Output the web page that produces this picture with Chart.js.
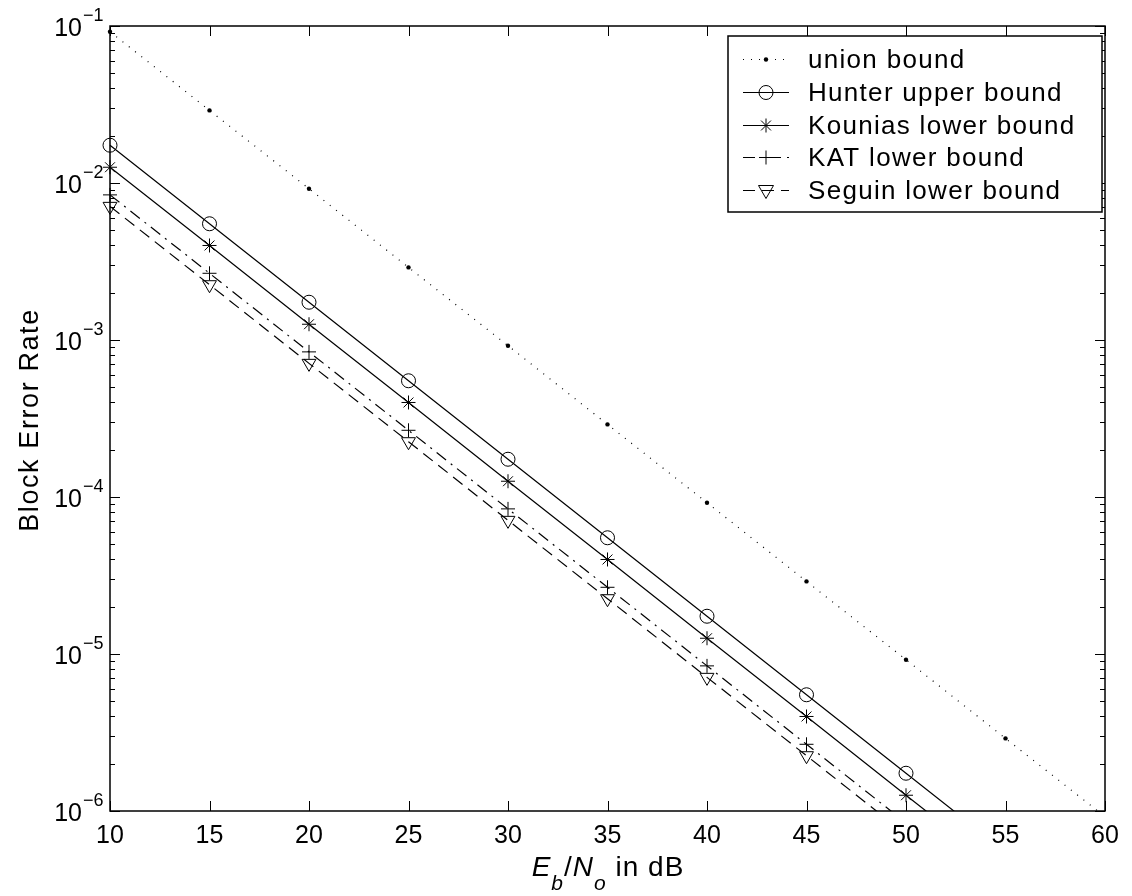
<!DOCTYPE html>
<html>
<head>
<meta charset="utf-8">
<script src="https://cdn.jsdelivr.net/npm/chart.js@4.4.0/dist/chart.umd.min.js"></script>
<style>
  body { margin: 0; background: #fff; }
  canvas { display: block; }
</style>
</head>
<body>
<canvas id="berChart" width="1132" height="896"></canvas>
<script>
// Eb/No values (dB)
const ebno = [10, 15, 20, 25, 30, 35, 40, 45, 50, 55, 60];

// block error rate per bound
const unionBound   = [0.092, 0.029, 0.0092, 0.0029, 9.2e-4, 2.9e-4, 9.2e-5, 2.9e-5, 9.2e-6, 2.9e-6, 9.2e-7];
const hunterUpper  = [0.0174, 0.0055, 0.00174, 5.5e-4, 1.74e-4, 5.5e-5, 1.74e-5, 5.5e-6, 1.74e-6, 5.5e-7];
const kouniasLower = [0.0126, 0.0040, 0.00126, 4.0e-4, 1.26e-4, 4.0e-5, 1.26e-5, 4.0e-6, 1.26e-6, 4.0e-7];
const katLower     = [0.0084, 0.00266, 8.4e-4, 2.66e-4, 8.4e-5, 2.66e-5, 8.4e-6, 2.66e-6, 8.4e-7];
const seguinLower  = [0.0071, 0.00225, 7.1e-4, 2.25e-4, 7.1e-5, 2.25e-5, 7.1e-6, 2.25e-6, 7.1e-7];

const seriesNames = ['union bound', 'Hunter upper bound', 'Kounias lower bound', 'KAT lower bound', 'Seguin lower bound'];

// tick labels
const xTicks = [10, 15, 20, 25, 30, 35, 40, 45, 50, 55, 60];
const xTickLabels = ['10', '15', '20', '25', '30', '35', '40', '45', '50', '55', '60'];
const yTicks = [1e-6, 1e-5, 1e-4, 1e-3, 1e-2, 1e-1];
const yTickExps = ['\u22126', '\u22125', '\u22124', '\u22123', '\u22122', '\u22121'];

const FONT = '"Liberation Sans", Arial, Helvetica, sans-serif';

const toPoints = (vals) => vals.map((v, i) => ({ x: ebno[i], y: v }));
const edgeClip = { left: 12, top: 12, right: 12, bottom: 0 };

const styles = [
  { dash: [1, 7], marker: 'dot' },
  { dash: [], marker: 'circle' },
  { dash: [], marker: 'star' },
  { dash: [12, 6, 2, 6], marker: 'plus' },
  { dash: [12, 7], marker: 'tri' },
];

// draw a marker by hand (used for the legend samples)
function drawMarker(ctx, kind, x, y) {
  ctx.save();
  ctx.setLineDash([]);
  ctx.lineWidth = 1;
  ctx.strokeStyle = '#000';
  ctx.fillStyle = '#000';
  ctx.beginPath();
  if (kind === 'dot') {
    ctx.arc(x, y, 2.2, 0, Math.PI * 2);
    ctx.fill();
  } else if (kind === 'circle') {
    ctx.arc(x, y, 7, 0, Math.PI * 2);
    ctx.stroke();
  } else if (kind === 'star') {
    for (let a = 0; a < 4; a++) {
      const t = a * Math.PI / 4;
      ctx.moveTo(x - 7 * Math.cos(t), y - 7 * Math.sin(t));
      ctx.lineTo(x + 7 * Math.cos(t), y + 7 * Math.sin(t));
    }
    ctx.stroke();
  } else if (kind === 'plus') {
    ctx.moveTo(x - 7, y); ctx.lineTo(x + 7, y);
    ctx.moveTo(x, y - 7); ctx.lineTo(x, y + 7);
    ctx.stroke();
  } else if (kind === 'tri') {
    ctx.moveTo(x - 7.5, y - 5);
    ctx.lineTo(x + 7.5, y - 5);
    ctx.lineTo(x, y + 8);
    ctx.closePath();
    ctx.stroke();
  }
  ctx.restore();
}

const frame = {
  id: 'frame',
  afterDraw(chart) {
    const { ctx, chartArea: a, scales: { x, y } } = chart;
    ctx.save();
    ctx.strokeStyle = '#000';
    ctx.fillStyle = '#000';

    // ticks, inside on all four sides
    ctx.lineWidth = 1;
    ctx.beginPath();
    xTicks.forEach((v) => {
      const px = Math.round(x.getPixelForValue(v)) + 0.5;
      ctx.moveTo(px, a.bottom); ctx.lineTo(px, a.bottom - 10);
      ctx.moveTo(px, a.top); ctx.lineTo(px, a.top + 10);
    });
    for (let e = -6; e < -1; e++) {
      for (let m = 1; m <= 9; m++) {
        const py = Math.round(y.getPixelForValue(m * Math.pow(10, e))) + 0.5;
        const len = m === 1 ? 10 : 5;
        ctx.moveTo(a.left, py); ctx.lineTo(a.left + len, py);
        ctx.moveTo(a.right, py); ctx.lineTo(a.right - len, py);
      }
    }
    const pTop = Math.round(y.getPixelForValue(0.1)) + 0.5;
    ctx.moveTo(a.left, pTop); ctx.lineTo(a.left + 10, pTop);
    ctx.moveTo(a.right, pTop); ctx.lineTo(a.right - 10, pTop);
    ctx.stroke();

    // box
    ctx.lineWidth = 1.5;
    ctx.strokeRect(a.left, a.top, a.right - a.left, a.bottom - a.top);

    // x tick labels
    ctx.font = '25px ' + FONT;
    ctx.textAlign = 'center';
    ctx.textBaseline = 'alphabetic';
    xTicks.forEach((v, i) => {
      ctx.fillText(xTickLabels[i], x.getPixelForValue(v), a.bottom + 32);
    });

    // y tick labels 10^k
    yTicks.forEach((v, i) => {
      const py = y.getPixelForValue(v);
      ctx.font = '25px ' + FONT;
      ctx.textAlign = 'right';
      ctx.fillText('10', 82, py + 10);
      ctx.font = '18px ' + FONT;
      ctx.textAlign = 'left';
      ctx.fillText(yTickExps[i], 83, py - 5);
    });

    // y axis title
    ctx.save();
    ctx.translate(38, 420);
    ctx.rotate(-Math.PI / 2);
    ctx.font = '27px ' + FONT;
    ctx.letterSpacing = '1.6px';
    ctx.textAlign = 'center';
    ctx.fillText('Block Error Rate', 0, 0);
    ctx.restore();

    // x axis title: E_b/N_o in dB
    const parts = [
      { t: 'E', f: 'italic 28px ', dy: 0 },
      { t: 'b', f: 'italic 21px ', dy: 14 },
      { t: '/', f: '28px ', dy: 0 },
      { t: 'N', f: 'italic 28px ', dy: 0 },
      { t: 'o', f: 'italic 21px ', dy: 14 },
      { t: ' in dB', f: '28px ', dy: 0 },
    ];
    ctx.letterSpacing = '1px';
    let total = 0;
    parts.forEach((p) => { ctx.font = p.f + FONT; p.w = ctx.measureText(p.t).width; total += p.w; });
    let cx = 608 - total / 2;
    ctx.textAlign = 'left';
    parts.forEach((p) => {
      ctx.font = p.f + FONT;
      ctx.fillText(p.t, cx, 876 + p.dy);
      cx += p.w;
    });
    ctx.letterSpacing = '0px';

    // legend
    const lx = 728, ly = 36, lw = 374, lh = 176;
    ctx.fillStyle = '#fff';
    ctx.fillRect(lx, ly, lw, lh);
    ctx.lineWidth = 1.5;
    ctx.strokeStyle = '#000';
    ctx.strokeRect(lx, ly, lw, lh);
    ctx.fillStyle = '#000';
    ctx.font = '26px ' + FONT;
    ctx.letterSpacing = '1.3px';
    ctx.textAlign = 'left';
    seriesNames.forEach((name, i) => {
      const ry = 59 + i * 32.8;
      ctx.save();
      ctx.lineWidth = 1;
      ctx.setLineDash(styles[i].dash);
      ctx.beginPath();
      ctx.moveTo(743, Math.round(ry) + 0.5);
      ctx.lineTo(789, Math.round(ry) + 0.5);
      ctx.stroke();
      ctx.restore();
      drawMarker(ctx, styles[i].marker, 766, Math.round(ry) + 0.5);
      ctx.fillText(name, 808, ry + 9);
    });
    ctx.restore();
  }
};

const ctx = document.getElementById('berChart').getContext('2d');

new Chart(ctx, {
  type: 'line',
  data: {
    datasets: [
      {
        label: seriesNames[0],
        data: toPoints(unionBound),
        borderColor: '#000',
        borderWidth: 1.2,
        borderDash: styles[0].dash,
        pointStyle: 'circle',
        pointRadius: 2.2,
        pointBackgroundColor: '#000',
        pointBorderWidth: 0,
        clip: edgeClip,
      },
      {
        label: seriesNames[1],
        data: toPoints(hunterUpper),
        borderColor: '#000',
        borderWidth: 1.2,
        pointStyle: 'circle',
        pointRadius: 7,
        pointBackgroundColor: 'rgba(0,0,0,0)',
        pointBorderColor: '#000',
        pointBorderWidth: 1,
        clip: edgeClip,
      },
      {
        label: seriesNames[2],
        data: toPoints(kouniasLower),
        borderColor: '#000',
        borderWidth: 1.2,
        pointStyle: 'star',
        pointRadius: 7,
        pointBorderColor: '#000',
        pointBorderWidth: 1,
        clip: edgeClip,
      },
      {
        label: seriesNames[3],
        data: toPoints(katLower),
        borderColor: '#000',
        borderWidth: 1.2,
        borderDash: styles[3].dash,
        pointStyle: 'cross',
        pointRadius: 7,
        pointBorderColor: '#000',
        pointBorderWidth: 1,
        clip: edgeClip,
      },
      {
        label: seriesNames[4],
        data: toPoints(seguinLower),
        borderColor: '#000',
        borderWidth: 1.2,
        borderDash: styles[4].dash,
        pointStyle: 'triangle',
        pointRotation: 180,
        pointRadius: 8,
        pointBackgroundColor: 'rgba(0,0,0,0)',
        pointBorderColor: '#000',
        pointBorderWidth: 1,
        clip: edgeClip,
      },
    ],
  },
  options: {
    responsive: false,
    animation: false,
    events: [],
    layout: { padding: { left: 110, right: 27, top: 26, bottom: 85 } },
    plugins: {
      legend: { display: false },
      tooltip: { enabled: false },
    },
    scales: {
      x: { type: 'linear', min: 10, max: 60, display: false },
      y: { type: 'logarithmic', min: 1e-6, max: 0.1, display: false },
    },
  },
  plugins: [frame],
});
</script>
</body>
</html>
